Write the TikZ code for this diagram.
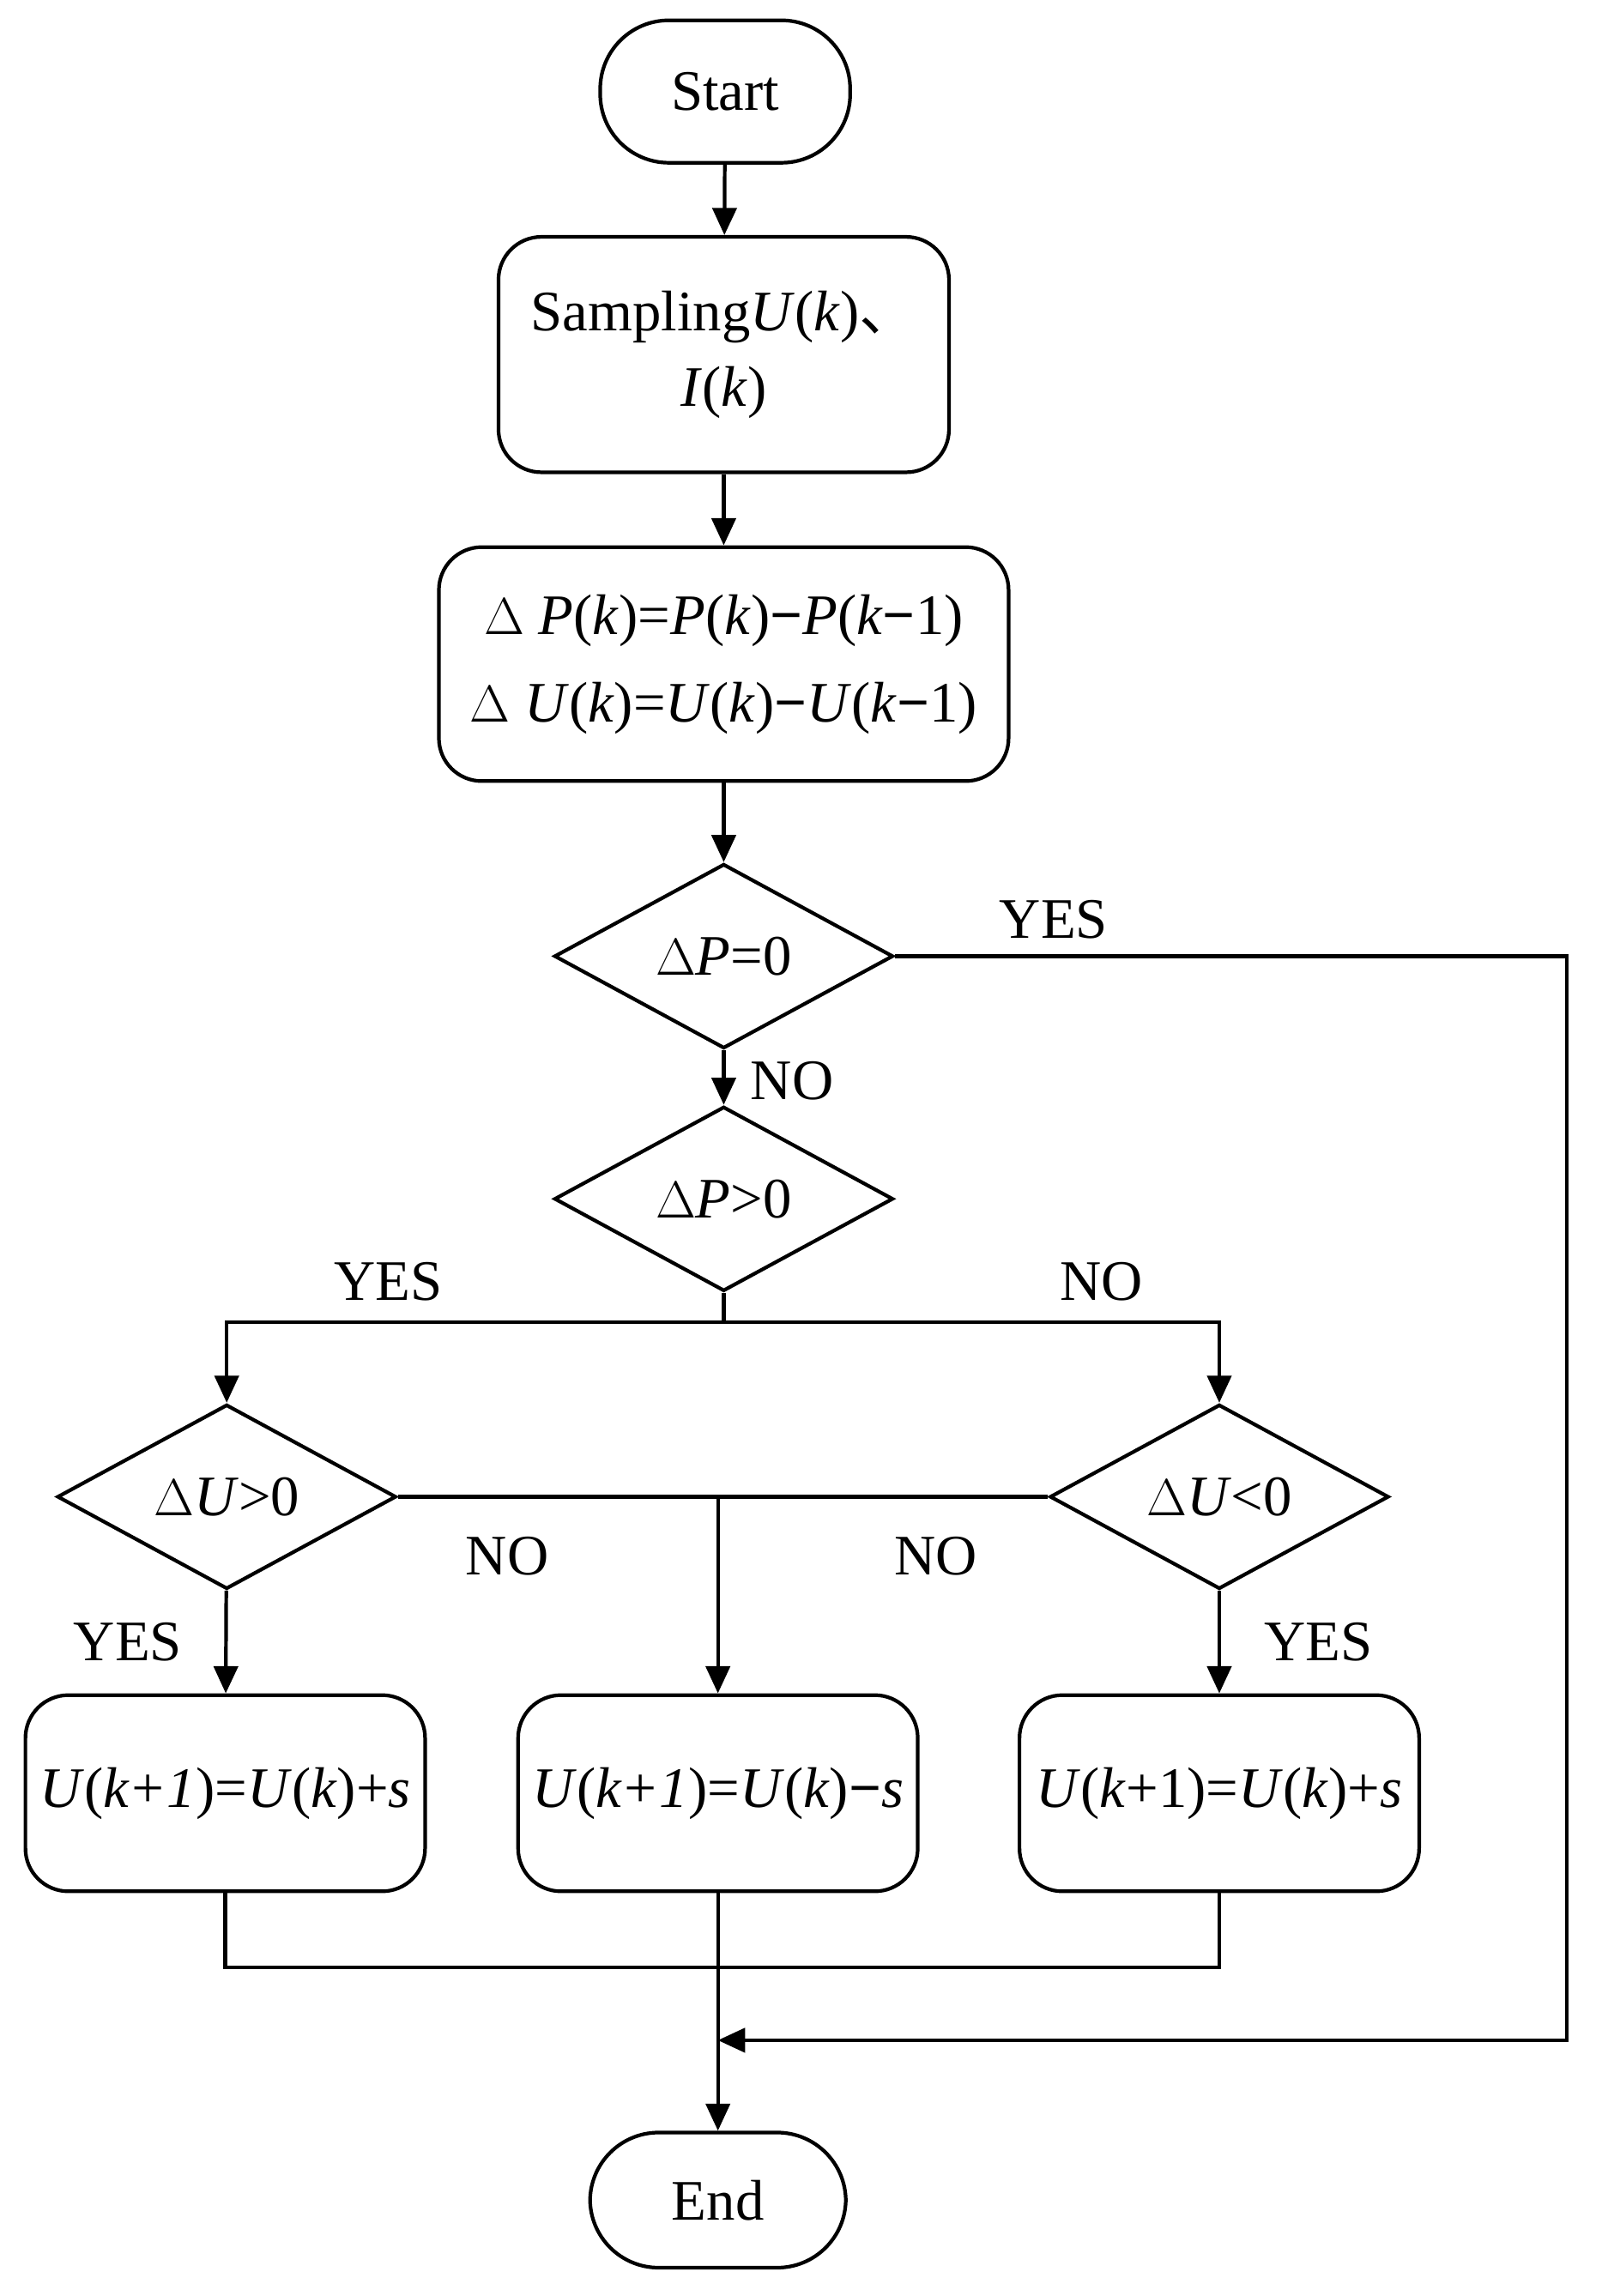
\documentclass[tikz,border=0pt]{standalone}
\usepackage{fontspec}
\setmainfont{Liberation Serif}
\newfontfamily\cjk{Noto Sans CJK SC}
\usetikzlibrary{shapes.geometric,arrows.meta}
\begin{document}
\begin{tikzpicture}[x=0.016933cm,y=-0.016933cm,
  every node/.style={font=\fontsize{19}{25}\selectfont},
  box/.style={draw,line width=1.2pt,rounded corners=0.5cm,align=center,inner sep=0pt},
  pill/.style={draw,line width=1.2pt,rounded corners=0.8cm,inner sep=0pt},
  dia/.style={draw,line width=1.2pt,diamond,aspect=1.85,inner sep=0pt,minimum width=3.95cm,minimum height=2.15cm},
  ln/.style={line width=1.2pt},
  arr/.style={line width=1.2pt,-{Triangle[length=9pt,width=8pt]}},
  lab/.style={font=\fontsize{19}{25}\selectfont}]
\useasboundingbox (0,0) rectangle (1102,1580);
\node[pill,minimum width=172*0.016933cm,minimum height=98*0.016933cm] (start) at (499,63) {Start};
\node[box,minimum width=310*0.016933cm,minimum height=162*0.016933cm] (samp) at (498,244) {Sampling\textit{U}(\textit{k}){\cjk 、}\\\textit{I}(\textit{k})};
\node[box,minimum width=392*0.016933cm,minimum height=161*0.016933cm] (dp) at (498,457) {$\Delta$ \textit{P}(\textit{k})=\textit{P}(\textit{k})\textbf{−}\textit{P}(\textit{k}\textbf{−}1)\\[4pt]$\Delta$ \textit{U}(\textit{k})=\textit{U}(\textit{k})\textbf{−}\textit{U}(\textit{k}\textbf{−}1)};
\node[dia] (d1) at (498,658) {$\Delta$\textit{P}=0};
\node[dia] (d2) at (498,825) {$\Delta$\textit{P}>0};
\node[dia] (d3) at (156,1030) {$\Delta$\textit{U}>0};
\node[dia] (d4) at (839,1030) {$\Delta$\textit{U}<0};
\node[box,minimum width=275*0.016933cm,minimum height=135*0.016933cm] (b1) at (155,1234) {\textit{U}(\textit{k+1})=\textit{U}(\textit{k})+\textit{s}};
\node[box,minimum width=275*0.016933cm,minimum height=135*0.016933cm] (b2) at (494,1234) {\textit{U}(\textit{k+1})=\textit{U}(\textit{k})\textbf{−}\textit{s}};
\node[box,minimum width=275*0.016933cm,minimum height=135*0.016933cm] (b3) at (839,1234) {\textit{U}(\textit{k}+1)=\textit{U}(\textit{k})+\textit{s}};
\node[pill,minimum width=176*0.016933cm,minimum height=93*0.016933cm] (end) at (494,1514) {End};
\coordinate (br) at (498,910);
\coordinate (m) at (494,1030);
\coordinate (j) at (494,1354);
\coordinate (k) at (494,1404);
\draw[arr] (start) -- (samp);
\draw[arr] (samp) -- (dp);
\draw[arr] (dp) -- (d1);
\draw[arr] (d1) -- (d2);
\draw[ln] (d2.south) -- (br);
\draw[arr] (br) -| (d3.north);
\draw[arr] (br) -| (d4.north);
\draw[ln] (d3.east) -- (d4.west);
\draw[arr] (m) -- (b2.north);
\draw[arr] (d3) -- (b1);
\draw[arr] (d4) -- (b3);
\draw[ln] (b1.south) |- (j) -| (b3.south);
\draw[arr] (b2.south) -- (end.north);
\draw[arr] (d1.east) -| (1078,1404) -- (k);
\node[lab] at (725,633) {YES};
\node[lab] at (545,744) {NO};
\node[lab] at (267,882) {YES};
\node[lab] at (758,882) {NO};
\node[lab] at (349,1071) {NO};
\node[lab] at (644,1071) {NO};
\node[lab] at (88,1130) {YES};
\node[lab] at (907,1130) {YES};
\end{tikzpicture}
\end{document}
